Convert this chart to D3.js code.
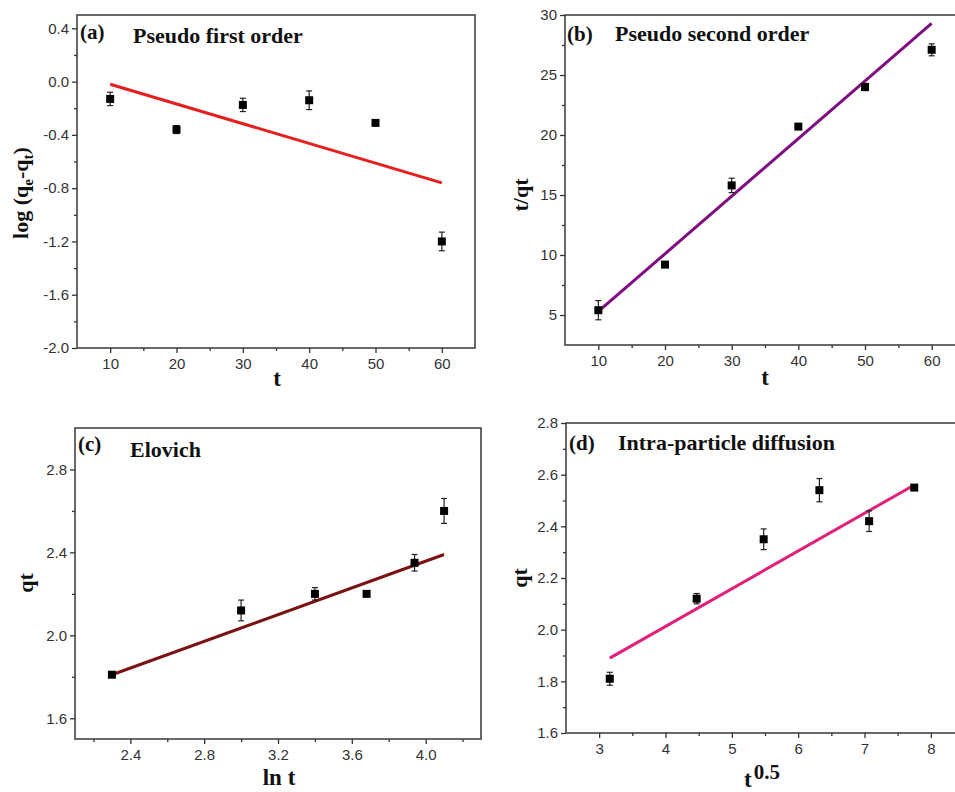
<!DOCTYPE html>
<html>
<head>
<meta charset="utf-8">
<script src="https://cdn.jsdelivr.net/npm/d3@7/dist/d3.min.js"></script>
<style>
  body { margin: 0; background: #fff; }
  svg { display: block; }
  .serif { font-family: "Liberation Serif", "Times New Roman", serif; font-weight: bold; fill: #111; }
</style>
</head>
<body>
<div id="chart"></div>
<script>
"use strict"

// (a) pseudo first order
const tA = [10, 20, 30, 40, 50, 60];
const logQ = [-0.13, -0.36, -0.175, -0.14, -0.31, -1.2];
const logQErr = [0.05, 0.03, 0.05, 0.07, 0.015, 0.07];
const fitA = [[10, -0.02], [60, -0.76]];

// (b) pseudo second order
const tB = [10, 20, 30, 40, 50, 60];
const tOverQ = [5.4, 9.2, 15.8, 20.7, 24.0, 27.1];
const tOverQErr = [0.8, 0.2, 0.6, 0.15, 0.3, 0.5];
const fitB = [[10, 5.3], [60, 29.3]];

// (c) Elovich
const lnT = [2.30, 3.0, 3.4, 3.68, 3.94, 4.1];
const qtC = [1.81, 2.12, 2.2, 2.2, 2.35, 2.6];
const qtCErr = [0.012, 0.05, 0.03, 0.012, 0.04, 0.06];
const fitC = [[2.3, 1.81], [4.1, 2.39]];

// (d) intra-particle diffusion
const sqrtT = [3.16, 4.47, 5.48, 6.32, 7.07, 7.75];
const qtD = [1.81, 2.12, 2.35, 2.54, 2.42, 2.55];
const qtDErr = [0.025, 0.02, 0.04, 0.045, 0.04, 0.008];
const fitD = [[3.16, 1.89], [7.75, 2.56]];

const panels = [
  { x: tA, y: logQ, err: logQErr, fit: fitA, color: "#e61e1e",
    box: [77, 15, 475, 348], xDom: [5, 65], yDom: [-2, 0.5],
    xTicks: [10, 20, 30, 40, 50, 60], xMinor: [15, 25, 35, 45, 55],
    yTicks: [-2, -1.6, -1.2, -0.8, -0.4, 0, 0.4], yMinor: [-1.8, -1.4, -1.0, -0.6, -0.2, 0.2],
    xFmt: d => d, yFmt: d => d.toFixed(1),
    tag: "(a)", tagPos: [80, 39], title: "Pseudo first order", titlePos: [133, 43],
    xLab: "t", xLabPos: [277, 386], yLabPos: [28, 193], yLabel: "log" },
  { x: tB, y: tOverQ, err: tOverQErr, fit: fitB, color: "#800d80",
    box: [565, 15, 965, 345], xDom: [5, 65], yDom: [2.5, 30],
    xTicks: [10, 20, 30, 40, 50, 60], xMinor: [15, 25, 35, 45, 55],
    yTicks: [5, 10, 15, 20, 25, 30], yMinor: [7.5, 12.5, 17.5, 22.5, 27.5],
    xFmt: d => d, yFmt: d => d,
    tag: "(b)", tagPos: [567, 41], title: "Pseudo second order", titlePos: [615, 41],
    xLab: "t", xLabPos: [765, 385], yLabPos: [528, 195], yLabel: "t/qt" },
  { x: lnT, y: qtC, err: qtCErr, fit: fitC, color: "#7a1212",
    box: [75, 428, 481, 739], xDom: [2.1, 4.3], yDom: [1.5, 3.0],
    xTicks: [2.4, 2.8, 3.2, 3.6, 4.0], xMinor: [2.2, 2.6, 3.0, 3.4, 3.8, 4.2],
    yTicks: [1.6, 2.0, 2.4, 2.8], yMinor: [1.8, 2.2, 2.6],
    xFmt: d => d.toFixed(1), yFmt: d => d.toFixed(1),
    tag: "(c)", tagPos: [78, 451], title: "Elovich", titlePos: [130, 457],
    xLab: "ln t", xLabPos: [279, 785], yLabPos: [33, 583], yLabel: "qt" },
  { x: sqrtT, y: qtD, err: qtDErr, fit: fitD, color: "#e0207a",
    box: [566, 423, 964, 733], xDom: [2.5, 8.5], yDom: [1.6, 2.8],
    xTicks: [3, 4, 5, 6, 7, 8], xMinor: [3.5, 4.5, 5.5, 6.5, 7.5],
    yTicks: [1.6, 1.8, 2.0, 2.2, 2.4, 2.6, 2.8], yMinor: [1.7, 1.9, 2.1, 2.3, 2.5, 2.7],
    xFmt: d => d, yFmt: d => d.toFixed(1),
    tag: "(d)", tagPos: [569, 450], title: "Intra-particle diffusion", titlePos: [618, 450],
    xLab: "t", xLabPos: [748, 787], yLabPos: [527, 578], yLabel: "qt" }
];

const svg = d3.select("#chart").append("svg")
  .attr("width", 955)
  .attr("height", 792);

for (let p of panels) {
  drawPanel(p);
}

function drawPanel(p) {
  let [x0, y0, x1, y1] = p.box;
  let x = d3.scaleLinear().domain(p.xDom).range([x0, x1]);
  let y = d3.scaleLinear().domain(p.yDom).range([y1, y0]);
  let g = svg.append("g");

  // frame
  g.append("rect")
    .attr("x", x0).attr("y", y0)
    .attr("width", x1 - x0).attr("height", y1 - y0)
    .attr("fill", "none").attr("stroke", "#444").attr("stroke-width", 1.6);

  // axes, major and minor
  let axes = [
    [d3.axisBottom(x).tickValues(p.xTicks).tickFormat(p.xFmt).tickSize(5).tickPadding(5), `translate(0,${y1})`],
    [d3.axisBottom(x).tickValues(p.xMinor).tickFormat("").tickSize(3), `translate(0,${y1})`],
    [d3.axisLeft(y).tickValues(p.yTicks).tickFormat(p.yFmt).tickSize(5).tickPadding(3), `translate(${x0},0)`],
    [d3.axisLeft(y).tickValues(p.yMinor).tickFormat("").tickSize(3), `translate(${x0},0)`]
  ];
  for (let [ax, tr] of axes) {
    g.append("g").attr("transform", tr).call(ax)
      .attr("font-size", 15)
      .attr("font-family", "'Liberation Sans', Arial, sans-serif");
  }
  g.selectAll(".domain").remove();
  g.selectAll(".tick line").attr("stroke", "#333").attr("stroke-width", 1.3);
  g.selectAll(".tick text").attr("fill", "#333");

  // fit line
  g.append("line")
    .attr("x1", x(p.fit[0][0])).attr("y1", y(p.fit[0][1]))
    .attr("x2", x(p.fit[1][0])).attr("y2", y(p.fit[1][1]))
    .attr("stroke", p.color).attr("stroke-width", 3);

  // error bars and square markers
  let pts = p.x.map((d, i) => ({ x: d, y: p.y[i], e: p.err[i] }));
  let eb = g.selectAll(".err").data(pts).enter().append("g");
  eb.append("line")
    .attr("x1", d => x(d.x)).attr("x2", d => x(d.x))
    .attr("y1", d => y(d.y - d.e)).attr("y2", d => y(d.y + d.e))
    .attr("stroke", "#222").attr("stroke-width", 1.2);
  for (let s of [-1, 1]) {
    eb.append("line")
      .attr("x1", d => x(d.x) - 3).attr("x2", d => x(d.x) + 3)
      .attr("y1", d => y(d.y + s * d.e)).attr("y2", d => y(d.y + s * d.e))
      .attr("stroke", "#222").attr("stroke-width", 1.2);
  }
  eb.append("rect")
    .attr("x", d => x(d.x) - 4).attr("y", d => y(d.y) - 4)
    .attr("width", 8).attr("height", 8)
    .attr("fill", "#000");

  // panel tag and title
  g.append("text").attr("class", "serif").attr("x", p.tagPos[0]).attr("y", p.tagPos[1])
    .attr("font-size", 21).text(p.tag);
  g.append("text").attr("class", "serif").attr("x", p.titlePos[0]).attr("y", p.titlePos[1])
    .attr("font-size", 22).text(p.title);

  // x label
  let xl = g.append("text").attr("class", "serif")
    .attr("x", p.xLabPos[0]).attr("y", p.xLabPos[1])
    .attr("text-anchor", "middle").attr("font-size", 23).text(p.xLab);
  if (p.tag === "(d)") {
    xl.append("tspan").attr("font-size", 21).attr("dx", 2).attr("dy", -8).text("0.5");
    xl.attr("text-anchor", "start").attr("x", p.xLabPos[0] - 4);
  }

  // y label
  let yl = g.append("text").attr("class", "serif")
    .attr("transform", `translate(${p.yLabPos[0]},${p.yLabPos[1]}) rotate(-90)`)
    .attr("text-anchor", "middle").attr("font-size", 22);
  if (p.yLabel === "log") {
    yl.append("tspan").text("log (q");
    yl.append("tspan").attr("font-size", 15).attr("dy", 5).text("e");
    yl.append("tspan").attr("dy", -5).text("-q");
    yl.append("tspan").attr("font-size", 15).attr("dy", 5).text("t");
    yl.append("tspan").attr("dy", -5).text(")");
  } else {
    yl.text(p.yLabel);
  }
}
</script>
</body>
</html>
